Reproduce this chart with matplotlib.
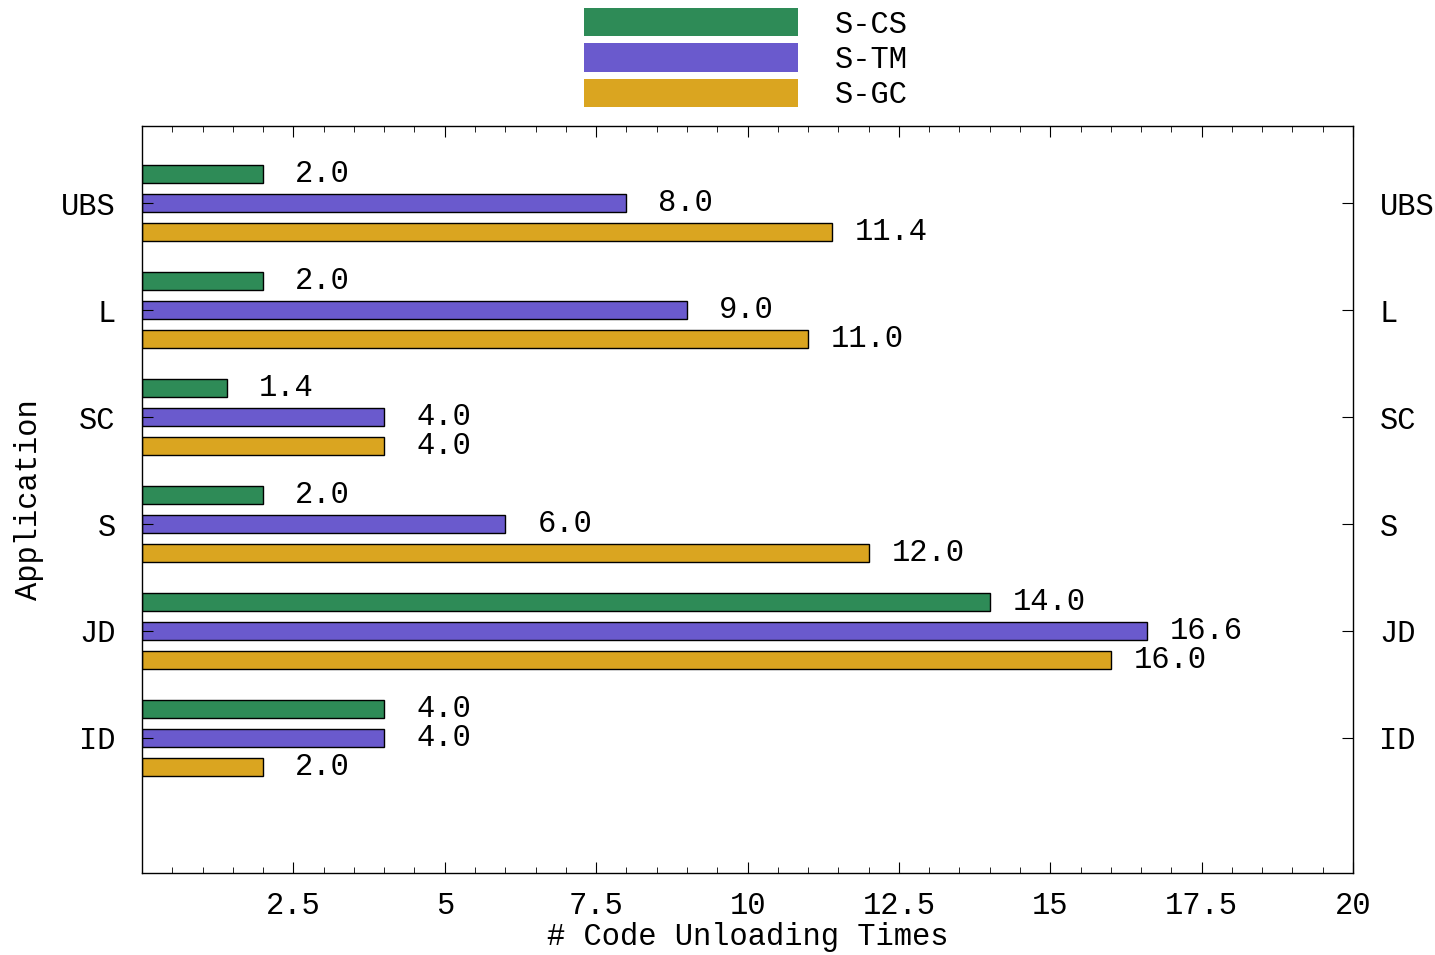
import numpy as np
import matplotlib.pyplot as plt
from matplotlib.patches import Patch
from matplotlib.ticker import MultipleLocator

apps = ["ID", "JD", "S", "SC", "L", "UBS"]
series = ["S-CS", "S-TM", "S-GC"]
s_cs = [4.0, 14.0, 2.0, 1.4, 2.0, 2.0]
s_tm = [4.0, 16.6, 6.0, 4.0, 9.0, 8.0]
s_gc = [2.0, 16.0, 12.0, 4.0, 11.0, 11.4]
colors = ["#2E8B57", "#6A5ACD", "#DAA520"]

plt.rcParams["font.family"] = ["Liberation Mono", "DejaVu Sans Mono"]
FS = 22

fig = plt.figure(figsize=(14.35, 9.55), dpi=100)
ax = fig.add_axes([142 / 1435, (955 - 873) / 955, (1353 - 142) / 1435, (873 - 126) / 955])

y = np.arange(len(apps))
h = 0.168
off = 0.267
for vals, dy, c in zip([s_cs, s_tm, s_gc], [off, 0, -off], colors):
    ax.barh(y + dy, vals, height=h, color=c, edgecolor="black", linewidth=1)
    for yi, v in zip(y, vals):
        ax.text(v + 0.98, yi + dy, f"{v:.1f}", va="center", ha="center", fontsize=FS)

ax.set_xlim(0, 20)
ax.set_ylim(-1.262, 5.72)
ax.set_xticks(np.arange(2.5, 20.01, 2.5))
ax.set_xticklabels(["2.5", "5", "7.5", "10", "12.5", "15", "17.5", "20"])
ax.xaxis.set_minor_locator(MultipleLocator(0.5))
ax.set_yticks(y)
ax.set_yticklabels(apps)
ax.tick_params(axis="x", which="major", direction="in", length=8, top=True, pad=13, labelsize=FS)
ax.tick_params(axis="x", which="minor", direction="in", length=4, top=True)
ax.tick_params(axis="y", direction="in", length=8, right=True, labelright=True, pad=19, labelsize=FS)
for s in ax.spines.values():
    s.set_linewidth(1)

ax.set_xlabel("# Code Unloading Times", fontsize=FS, labelpad=1)
ax.set_ylabel("Application", fontsize=FS, labelpad=12)

handles = [Patch(facecolor=c, edgecolor="none") for c in colors]
fig.legend(handles, series, loc="upper left", bbox_to_anchor=(584 / 1435, 1 - 8 / 955),
           frameon=False, fontsize=FS, handlelength=7.0, handleheight=1.05,
           labelspacing=0.12, handletextpad=1.2, borderpad=0, borderaxespad=0)

fig.savefig("out.png", dpi=100)
